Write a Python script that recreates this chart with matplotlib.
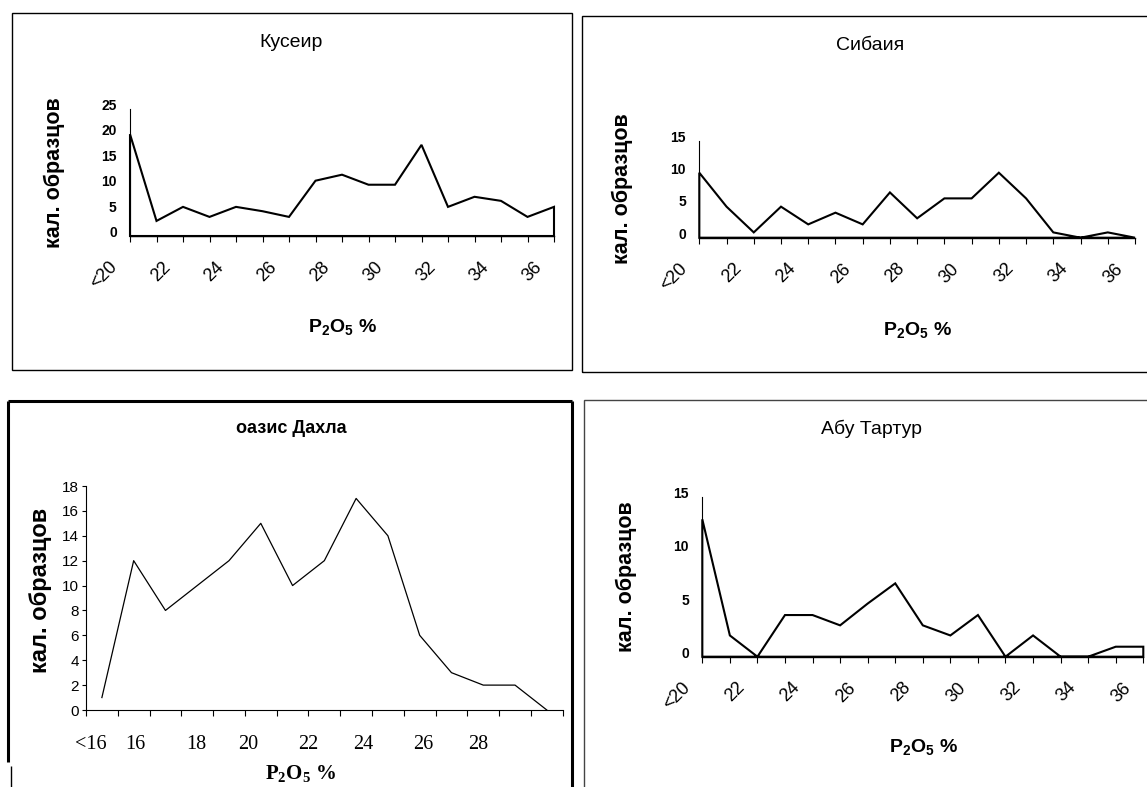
import matplotlib
matplotlib.use('Agg')
import matplotlib.pyplot as plt
from matplotlib.transforms import ScaledTranslation
from matplotlib.patches import Rectangle
from matplotlib.lines import Line2D

plt.rcParams['mathtext.fontset'] = 'custom'
plt.rcParams['mathtext.rm'] = 'Liberation Sans'
plt.rcParams['mathtext.sf'] = 'Liberation Sans:bold'
plt.rcParams['mathtext.bf'] = 'Liberation Serif:bold'

# ---------------- data ----------------
categories = ['<20'] + [str(v) for v in range(21, 37)]
kuseir = [20.0, 2.96, 5.72, 3.75, 5.72, 4.87, 3.75, 10.86, 12.04, 10.07, 10.07,
          17.9, 5.72, 7.7, 6.9, 3.75, 5.72]
sibaiya = [10.05, 4.8, 0.82, 4.8, 2.06, 3.87, 2.06, 7.0, 3.0, 6.08, 6.08,
           10.05, 6.08, 0.82, 0.0, 0.82, 0.0]
abu_tartur = [12.93, 2.0, 0.0, 3.92, 3.92, 2.95, 5.0, 6.9, 2.95, 2.0, 3.92,
              0.0, 2.0, 0.0, 0.0, 0.94, 0.94]
dakhla = [1, 12, 8, 10, 12, 15, 10, 12, 17, 14, 6, 3, 2, 2, 0]
dakhla_labels = ['<16', '16', '18', '20', '22', '24', '26', '28']
dakhla_label_pos = [-0.36, 1.05, 2.96, 4.61, 6.5, 8.23, 10.1, 11.85]

ylabel_text = 'кал. образцов'

W, H, DPI = 1147, 787, 100
fig = plt.figure(figsize=(W / DPI, H / DPI), dpi=DPI)
fig.patch.set_facecolor('white')


def px_rect(l, t, r, b):
    return [l / W, 1 - b / H, (r - l) / W, (b - t) / H]


def fx(x):
    return x / W


def fy(y):
    return 1 - y / H


def frame(l, t, r, b, lw, color='black'):
    fig.add_artist(Rectangle((fx(l), fy(b)), (r - l) / W, (b - t) / H,
                             transform=fig.transFigure, fill=False, lw=lw,
                             edgecolor=color, clip_on=False))


def vline(x, y0, y1, lw, color='black'):
    fig.add_artist(Line2D([fx(x), fx(x)], [fy(y0), fy(y1)], transform=fig.transFigure,
                          lw=lw, color=color, solid_capstyle='butt'))


def hline(x0, x1, y, lw, color='black'):
    fig.add_artist(Line2D([fx(x0), fx(x1)], [fy(y), fy(y)], transform=fig.transFigure,
                          lw=lw, color=color, solid_capstyle='butt'))


SANS = 'Liberation Sans'
SERIF = 'Liberation Serif'


def top_panel(rect, values, ymax, title, title_xy, ylab_xy, xlab_xy):
    ax = fig.add_axes(px_rect(*rect))
    x = list(range(len(values)))
    ax.fill_between(x, values, 0, facecolor='none', edgecolor='black', lw=1.5,
                    clip_on=False, joinstyle='miter')
    ax.set_xlim(0, len(values) - 1)
    ax.set_ylim(0, ymax)
    for s in ['top', 'right']:
        ax.spines[s].set_visible(False)
    ax.spines['left'].set_linewidth(0.8)
    ax.spines['bottom'].set_linewidth(1.0)
    ax.set_yticks(range(0, ymax + 1, 5))
    ax.set_xticks(x)
    ax.set_xticklabels([c if i % 2 == 0 else '' for i, c in enumerate(categories)])
    ax.tick_params(axis='y', length=0, pad=9.5, labelsize=10)
    ax.tick_params(axis='x', direction='out', length=4.5, width=0.8, pad=16,
                   labelsize=13)
    for lab in ax.get_yticklabels():
        lab.set_fontfamily(SANS)
        lab.set_fontweight('bold')
        lab.set_transform(lab.get_transform() +
                          ScaledTranslation(0, 4.5 / DPI, fig.dpi_scale_trans))
    for lab in ax.get_xticklabels():
        lab.set_fontfamily(SANS)
        lab.set_rotation(45)
        lab.set_ha('right')
        lab.set_va('center')
        lab.set_rotation_mode('anchor')
        lab.set_transform(lab.get_transform() +
                          ScaledTranslation(-15 / DPI, 0, fig.dpi_scale_trans))
    fig.text(fx(title_xy[0]), fy(title_xy[1]), title, ha='center', va='baseline',
             fontsize=14, family=SANS)
    fig.text(fx(ylab_xy[0]), fy(ylab_xy[1]), ylabel_text, rotation=90, ha='center',
             va='center', fontsize=15.5, family=SANS, fontweight='bold')
    fig.text(fx(xlab_xy[0]), fy(xlab_xy[1]), r'$\mathsf{P_2O_5}$ %', ha='center',
             va='baseline', fontsize=14, family=SANS, fontweight='bold')
    return ax


# frames
frame(12.3, 13.3, 571.7, 370, 1.0)
frame(581.7, 16, 1170, 372.3, 1.0)
frame(584.3, 400, 1170, 800, 1.0, '#444444')
hline(8.3, 571.7, 400.7, 2.2)
vline(571.7, 400.7, 790, 2.2)
vline(8.3, 400.7, 762, 2.2)
vline(10.5, 766, 790, 1.0)

top_panel((130, 108.7, 554, 236), kuseir, 25, 'Кусеир', (291, 46.7), (54, 172.5), (342, 332))
top_panel((699.3, 140.7, 1135, 237.7), sibaiya, 15, 'Сибаия', (870, 50), (622, 189), (917, 335))
top_panel((702.3, 497.3, 1143.3, 656.7), abu_tartur, 15, 'Абу Тартур', (871, 434), (626, 577), (923, 752))

# ---- оазис Дахла ----
ax3 = fig.add_axes(px_rect(86, 486, 562.7, 710))
ax3.plot(range(len(dakhla)), dakhla, color='black', lw=0.9, clip_on=False)
ax3.set_xlim(-0.5, len(dakhla) - 0.5)
ax3.set_ylim(0, 18)
for s in ['top', 'right']:
    ax3.spines[s].set_visible(False)
ax3.spines['left'].set_linewidth(0.8)
ax3.spines['bottom'].set_linewidth(0.8)
ax3.set_yticks(range(0, 19, 2))
ax3.set_xticks([i - 0.5 for i in range(len(dakhla) + 1)])
ax3.set_xticklabels([])
ax3.xaxis.remove_overlapping_locs = False
ax3.set_xticks(dakhla_label_pos, dakhla_labels, minor=True)
ax3.tick_params(axis='x', which='major', direction='out', length=4, width=0.8)
ax3.tick_params(axis='x', which='minor', length=0, pad=18, labelsize=14.5)
ax3.tick_params(axis='y', direction='out', length=3, width=0.8, pad=2, labelsize=11)
for lab in ax3.get_xticklabels(minor=True):
    lab.set_fontfamily(SERIF)
for lab in ax3.get_yticklabels():
    lab.set_fontfamily(SANS)

fig.text(fx(291), fy(433), 'оазис Дахла', ha='center', va='baseline', fontsize=13,
         family=SANS, fontweight='bold')
fig.text(fx(41), fy(590), ylabel_text, rotation=90, ha='center', va='center',
         fontsize=17, family=SANS, fontweight='bold')
fig.text(fx(301), fy(779), r'$\mathbf{P_2O_5}$ %', ha='center', va='baseline',
         fontsize=15, family=SERIF, fontweight='bold')

fig.savefig('out.png', dpi=DPI, facecolor='white')
